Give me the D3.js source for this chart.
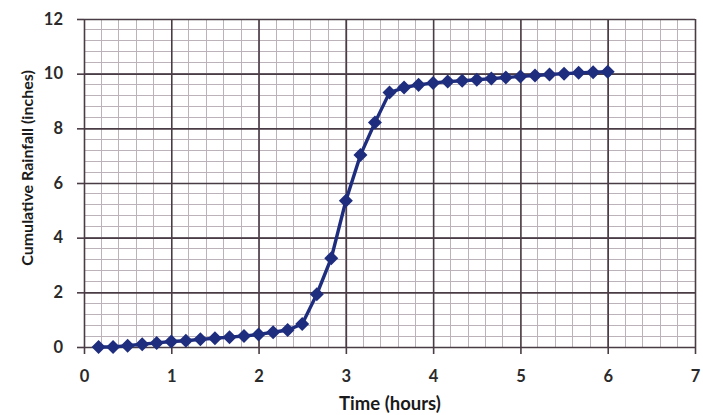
<!DOCTYPE html>
<html><head><meta charset="utf-8">
<script src="https://cdn.jsdelivr.net/npm/d3@7"></script>
<style>body{margin:0;background:#fff}svg{display:block}</style>
</head><body>
<script>
const times = [0.167,0.333,0.5,0.667,0.833,1.0,1.167,1.333,1.5,1.667,1.833,2.0,2.167,2.333,2.5,2.667,2.833,3.0,3.167,3.333,3.5,3.667,3.833,4.0,4.167,4.333,4.5,4.667,4.833,5.0,5.167,5.333,5.5,5.667,5.833,6.0];
const rainfall = [0.0,0.0,0.05,0.1,0.15,0.2,0.23,0.28,0.32,0.36,0.4,0.46,0.54,0.62,0.84,1.93,3.25,5.35,7.02,8.21,9.31,9.49,9.59,9.66,9.71,9.74,9.78,9.82,9.86,9.9,9.93,9.97,10.0,10.03,10.05,10.07];
const xTicks = [0,1,2,3,4,5,6,7];
const yTicks = [0,2,4,6,8,10,12];
const xTitle = "Time (hours)";
const yTitle = "Cumulative Rainfall (inches)";

const W = 703, H = 415;
const m = {left:84, right:8, top:19, bottom:68};
const svg = d3.select("body").append("svg").attr("width",W).attr("height",H);
const x = d3.scaleLinear().domain([0,7]).range([m.left, W-m.right]);
const y = d3.scaleLinear().domain([0,12]).range([H-m.bottom, m.top]);
const font = "Lato, 'Open Sans', sans-serif";

// minor grid
const g = svg.append("g");
g.selectAll(".mvx").data(d3.range(0,7.0001,0.2)).join("line")
  .attr("x1",d=>x(d)).attr("x2",d=>x(d)).attr("y1",y(0)).attr("y2",y(12))
  .attr("stroke","#bcb2ba").attr("stroke-width",1).attr("shape-rendering","crispEdges");
g.selectAll(".mhy").data(d3.range(0,12.0001,0.4)).join("line")
  .attr("y1",d=>y(d)).attr("y2",d=>y(d)).attr("x1",x(0)).attr("x2",x(7))
  .attr("stroke","#bcb2ba").attr("stroke-width",1).attr("shape-rendering","crispEdges");

// major grid via axes
const fmt = d3.format("d");
const xAxis = svg.append("g").attr("transform",`translate(0,${y(0)})`)
  .call(d3.axisBottom(x).tickValues(xTicks).tickFormat(fmt).tickSize(-(y(0)-y(12))).tickSizeOuter(0).tickPadding(23));
const yAxis = svg.append("g").attr("transform",`translate(${x(0)},0)`)
  .call(d3.axisLeft(y).tickValues(yTicks).tickFormat(fmt).tickSize(-(x(7)-x(0))).tickSizeOuter(0).tickPadding(21));
[xAxis,yAxis].forEach(a=>{
  a.select(".domain").remove();
  a.selectAll(".tick line").attr("stroke","#4a3c44").attr("stroke-width",1.6);
  a.selectAll("text").attr("font-family",font).attr("font-weight","bold").attr("font-size",16.5).attr("fill","#2a2a2a");
});
// outward tick stubs
xAxis.selectAll(".tick").append("line").attr("y1",0).attr("y2",7).attr("stroke","#4a3c44").attr("stroke-width",1.6);
yAxis.selectAll(".tick").append("line").attr("x1",0).attr("x2",-7).attr("stroke","#4a3c44").attr("stroke-width",1.6);

// series
const pts = times.map((t,i)=>[t,rainfall[i]]);
svg.append("path").datum(pts)
  .attr("d",d3.line().x(d=>x(d[0])).y(d=>y(d[1])))
  .attr("fill","none").attr("stroke","#1f2d7e").attr("stroke-width",3.4);
svg.append("g").selectAll("path").data(pts).join("path")
  .attr("transform",d=>`translate(${x(d[0])},${y(d[1])})`)
  .attr("d",d3.symbol(d3.symbolDiamond2,125))
  .attr("fill","#1f2d7e");

// titles
svg.append("text").attr("x",390).attr("y",410).attr("text-anchor","middle")
  .attr("font-family",font).attr("font-weight","bold").attr("font-size",18.5).attr("fill","#1a1a1a").text(xTitle);
svg.append("text").attr("transform",`translate(33,168) rotate(-90)`).attr("text-anchor","middle")
  .attr("font-family",font).attr("font-weight","bold").attr("font-size",16).attr("fill","#1a1a1a").text(yTitle);
</script>
</body></html>
